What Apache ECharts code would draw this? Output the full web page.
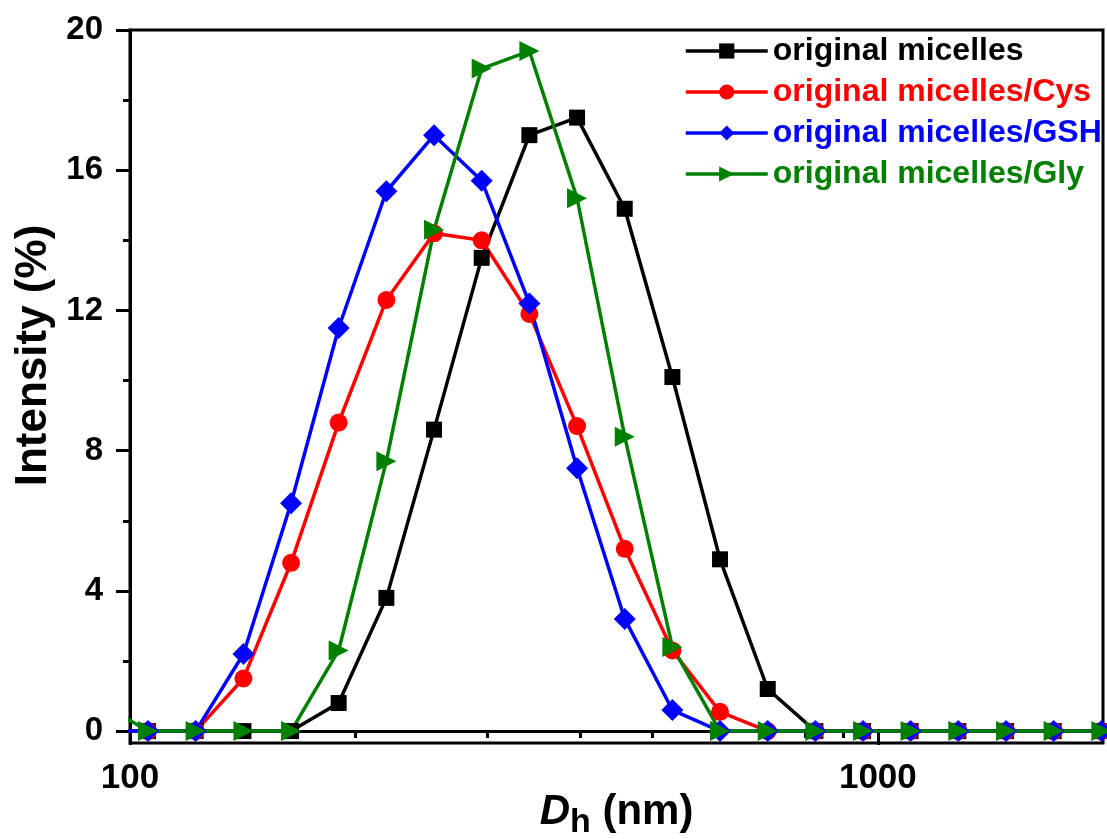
<!DOCTYPE html>
<html>
<head>
<meta charset="utf-8">
<script src="https://cdn.jsdelivr.net/npm/echarts@6/dist/echarts.min.js"></script>
<style>
html, body { margin: 0; padding: 0; background: #fff; }
#main { width: 1107px; height: 839px; }
</style>
</head>
<body>
<div id="main"></div>
<script>
// hydrodynamic diameter bins (nm)
var sizes = [91.28, 105.7, 122.4, 141.8, 164.2, 190.1, 220.2, 255.0, 295.3, 342.0, 396.1,
	458.7, 531.2, 615.1, 712.4, 825.0, 955.4, 1106, 1281, 1484, 1718, 1990];
var original = [0, 0, 0, 0, 0, 0.8, 3.8, 8.6, 13.5, 17.0, 17.5, 14.9, 10.1, 4.9, 1.2, 0, 0, 0, 0, 0, 0, 0];
var cys = [0, 0, 0, 1.5, 4.8, 8.8, 12.3, 14.2, 14.0, 11.9, 8.7, 5.2, 2.3, 0.55, 0, 0, 0, 0, 0, 0, 0, 0];
var gsh = [0, 0, 0, 2.2, 6.5, 11.5, 15.4, 17.0, 15.7, 12.2, 7.5, 3.2, 0.6, 0, 0, 0, 0, 0, 0, 0, 0, 0];
var gly = [0.8, 0, 0, 0, 0, 2.3, 7.7, 14.3, 18.9, 19.4, 15.2, 8.4, 2.4, 0, 0, 0, 0, 0, 0, 0, 0, 0];

var names = ['original micelles', 'original micelles/Cys', 'original micelles/GSH', 'original micelles/Gly'];
var colors = ['#000000', '#ff0000', '#0000ff', '#008000'];

var yMajor = [0, 4, 8, 12, 16, 20];
var yMinor = [2, 6, 10, 14, 18];
var xMajor = [100, 1000];
var xMinor = [200, 300, 400, 500, 600, 700, 800, 900, 2000];

var FONT = '"Liberation Sans", Arial, sans-serif';

function pairs(vals) {
	var out = [];
	for (var i = 0; i < sizes.length; i++) out.push([sizes[i], vals[i]]);
	return out;
}

var myChart = echarts.init(document.getElementById('main'));

var seriesVals = [original, cys, gsh, gly];
var symbols = ['rect', 'circle', 'diamond', 'triangle'];
var symbolSizes = [16, 18, 22, 20];
var symbolRot = [0, 0, 0, -90];

var option = {
	animation: false,
	grid: {
		left: 130, right: 4, top: 30, bottom: 96,
		outerBoundsMode: 'none',
		show: true, borderColor: '#000', borderWidth: 3
	},
	legend: {
		orient: 'vertical',
		left: 684, top: 35, padding: 0,
		itemWidth: 82, itemHeight: 19, itemGap: 9,
		lineStyle: { width: 3.5 },
		textStyle: { fontFamily: FONT, fontWeight: 'bold', fontSize: 32, lineHeight: 31 },
		data: names.map(function (n, i) { return { name: n, textStyle: { color: colors[i] } }; })
	},
	xAxis: [{
		type: 'log', logBase: 10, min: 100, max: 2000,
		name: '{d|D}{h|h}{n| (nm)}',
		nameLocation: 'middle', nameGap: 41, nameMoveOverlap: false,
		nameTextStyle: {
			rich: {
				d: { fontFamily: FONT, fontSize: 42, fontWeight: 'bold', fontStyle: 'italic', color: '#000' },
				h: { fontFamily: FONT, fontSize: 34, fontWeight: 'bold', color: '#000', padding: [22, 0, 0, 0] },
				n: { fontFamily: FONT, fontSize: 42, fontWeight: 'bold', color: '#000' }
			}
		},
		axisLine: { lineStyle: { color: '#000', width: 3 } },
		axisTick: { customValues: xMajor, length: 14, lineStyle: { color: '#000', width: 3 } },
		axisLabel: {
			customValues: xMajor, margin: 18,
			fontFamily: FONT, fontSize: 35, fontWeight: 'bold', color: '#000',
			formatter: function (v) { return String(Math.round(v)); }
		},
		splitLine: { show: false }
	}, {
		type: 'log', logBase: 10, min: 100, max: 2000, position: 'bottom',
		axisLine: { show: false },
		axisTick: { customValues: xMinor, length: 7, lineStyle: { color: '#000', width: 3 } },
		axisLabel: { show: false },
		splitLine: { show: false }
	}],
	yAxis: [{
		type: 'value', min: -0.34, max: 20,
		name: 'Intensity (%)',
		nameLocation: 'middle', nameGap: 74,
		nameTextStyle: { fontFamily: FONT, fontSize: 44, fontWeight: 'bold', color: '#000', padding: [0, 0, 0, 62] },
		axisLine: { lineStyle: { color: '#000', width: 3 } },
		axisTick: { customValues: yMajor, length: 14, lineStyle: { color: '#000', width: 3 } },
		axisLabel: { customValues: yMajor, margin: 27, fontFamily: FONT, fontSize: 33, fontWeight: 'bold', color: '#000' },
		splitLine: { show: false }
	}, {
		type: 'value', min: -0.34, max: 20, position: 'left',
		axisLine: { show: false },
		axisTick: { customValues: yMinor, length: 7, lineStyle: { color: '#000', width: 3 } },
		axisLabel: { show: false },
		splitLine: { show: false }
	}],
	series: []
};

for (var i = 0; i < 4; i++) {
	option.series.push({
		name: names[i],
		type: 'line',
		xAxisIndex: 0,
		yAxisIndex: 0,
		data: pairs(seriesVals[i]),
		symbol: symbols[i],
		symbolSize: symbolSizes[i],
		symbolRotate: symbolRot[i],
		showAllSymbol: true,
		color: colors[i],
		lineStyle: { width: 3.5, color: colors[i] },
		itemStyle: { color: colors[i] }
	});
}

myChart.setOption(option);
</script>
</body>
</html>
